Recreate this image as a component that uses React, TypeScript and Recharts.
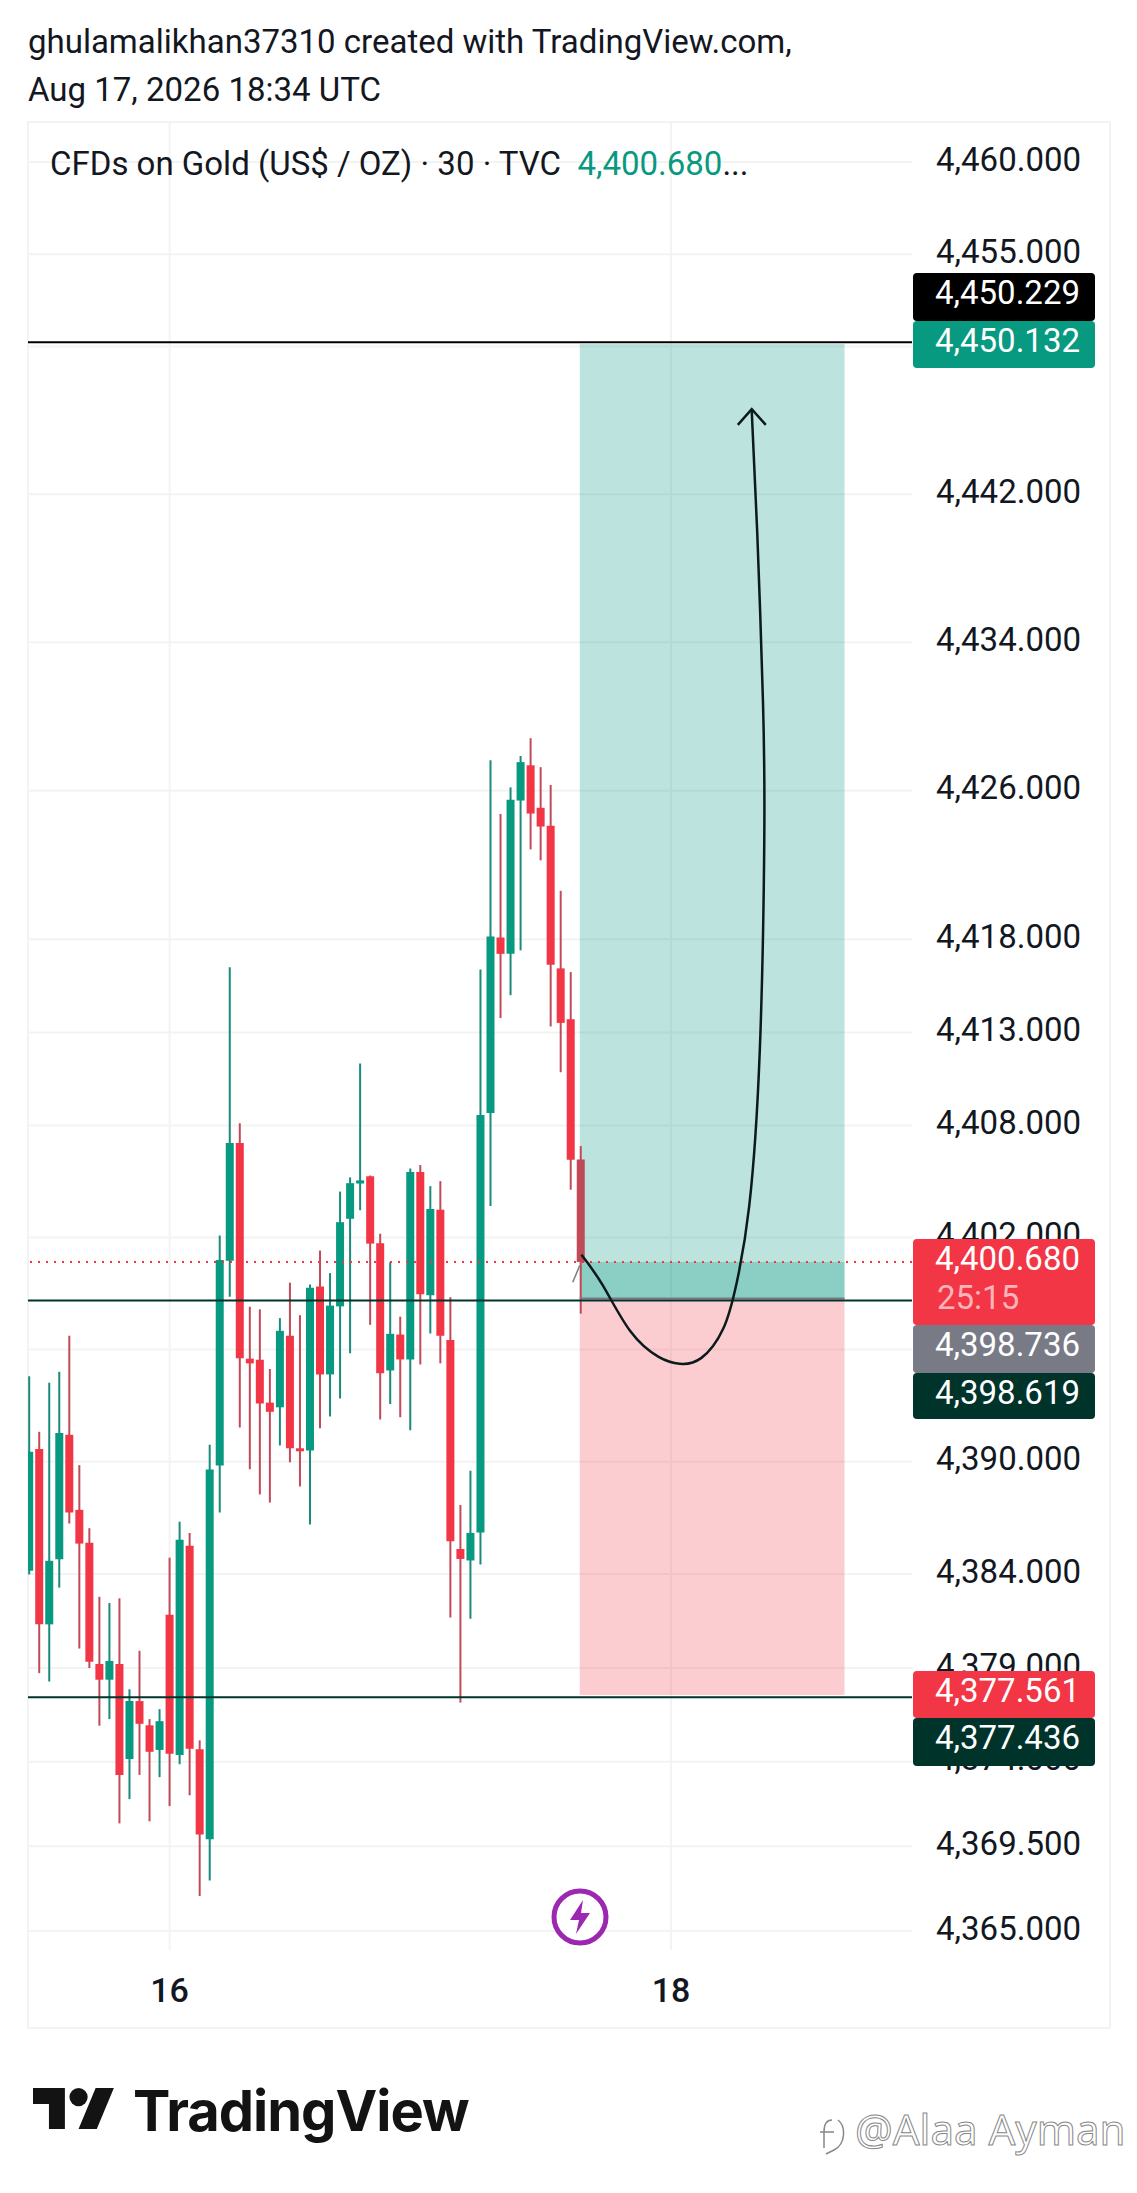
import React from 'react';
import { ComposedChart, Bar, Cell, Line, XAxis, YAxis, CartesianGrid, ReferenceLine, ReferenceArea } from 'recharts';

const opens = [4384.18, 4390.68, 4381.32, 4384.79, 4391.44, 4387.43, 4385.67, 4379.21, 4378.37, 4379.21, 4374.14, 4377.23, 4375.94, 4374.63, 4381.83, 4374.36, 4385.51, 4374.67, 4369.87, 4389.8, 4400.75, 4407.07, 4395.51, 4395.45, 4393.16, 4392.91, 4396.74, 4390.72, 4390.6, 4399.37, 4394.67, 4398.31, 4403.0, 4404.89, 4405.28, 4401.69, 4394.88, 4396.8, 4395.47, 4405.51, 4398.9, 4403.48, 4396.51, 4385.34, 4384.73, 4386.22, 4408.67, 4418.1, 4417.22, 4425.47, 4427.37, 4425.08, 4424.11, 4416.44, 4413.71, 4406.18];
const highs = [4394.57, 4391.6, 4394.22, 4394.81, 4396.74, 4389.82, 4386.45, 4382.79, 4382.46, 4382.71, 4377.86, 4379.91, 4376.27, 4376.8, 4384.88, 4386.8, 4386.2, 4375.14, 4390.91, 4402.1, 4416.5, 4408.13, 4398.29, 4398.15, 4394.96, 4397.68, 4399.58, 4397.84, 4399.48, 4401.3, 4400.09, 4404.46, 4405.22, 4411.33, 4405.32, 4402.2, 4400.67, 4397.76, 4405.69, 4405.88, 4404.75, 4405.02, 4398.8, 4387.69, 4389.52, 4416.38, 4427.64, 4424.75, 4426.18, 4427.87, 4428.83, 4427.27, 4426.31, 4420.61, 4416.24, 4406.9];
const lows = [4383.98, 4378.72, 4378.27, 4383.28, 4386.7, 4380.03, 4378.99, 4375.92, 4376.27, 4370.72, 4372.01, 4373.3, 4370.83, 4373.18, 4371.64, 4373.87, 4372.22, 4366.86, 4367.68, 4387.29, 4398.82, 4391.83, 4389.6, 4388.25, 4387.82, 4390.87, 4389.97, 4388.68, 4386.65, 4391.79, 4392.42, 4393.38, 4395.8, 4403.46, 4397.32, 4392.26, 4393.08, 4392.38, 4391.69, 4395.2, 4396.86, 4395.26, 4381.69, 4377.15, 4381.62, 4384.51, 4403.68, 4413.77, 4415.0, 4417.41, 4422.84, 4422.25, 4413.32, 4410.86, 4404.56, 4397.92];
const closes = [4390.54, 4381.32, 4384.71, 4391.54, 4387.29, 4385.63, 4379.33, 4378.37, 4379.37, 4373.3, 4377.23, 4376.02, 4374.53, 4376.16, 4374.43, 4385.84, 4374.69, 4370.13, 4389.58, 4400.79, 4407.07, 4395.53, 4395.26, 4393.12, 4392.67, 4397.0, 4390.72, 4390.56, 4399.31, 4394.67, 4398.35, 4402.82, 4404.91, 4405.06, 4401.67, 4394.73, 4396.84, 4395.47, 4405.51, 4398.96, 4403.52, 4396.74, 4385.75, 4384.81, 4386.2, 4408.56, 4418.16, 4417.22, 4425.51, 4427.54, 4424.77, 4424.07, 4416.63, 4413.51, 4406.16, 4400.68];

const priceTicks = [4460, 4455, 4450, 4442, 4434, 4426, 4418, 4413, 4408, 4402, 4396, 4390, 4384, 4379, 4374, 4369.5, 4365];
const dateTicks = [14, 64];
const dateLabels = ['16', '18'];

const curveBars = [55.07, 57.2, 59.97, 62.76, 64.85, 67.0, 69.2, 70.55, 71.8, 72.85, 73.3, 73.17, 72.6, 72.05];
const curvePrices = [4401.07, 4399.43, 4396.96, 4395.61, 4395.24, 4395.54, 4397.11, 4399.58, 4403.69, 4412.0, 4423.3, 4430.8, 4439.9, 4446.5];
const arrowBars = [70.66, 72.05, 73.45];
const arrowPrices = [4445.75, 4446.6, 4445.75];
const markerBars = [54.2, 54.9];
const markerPrices = [4399.6, 4400.5];

const GREEN = '#089981';
const RED = '#f23645';
const DARK = '#00332a';
const GRID = '#f3f3f3';
const DIM_RED = '#c04a58';
const FONT = 'Roboto, sans-serif';
const X_DOMAIN = [-0.12, 88.03];

const candles = opens.map((open, i) => ({
  i,
  body: [Math.min(open, closes[i]), Math.max(open, closes[i])],
  wick: [lows[i], highs[i]],
  up: closes[i] >= open,
}));
const curve = curveBars.map((i, k) => ({ i, price: curvePrices[k] }));
const arrow = arrowBars.map((i, k) => ({ i, price: arrowPrices[k] }));
const marker = markerBars.map((i, k) => ({ i, price: markerPrices[k] }));

function Badge({ top, height, bg, text, sub }: { top: number; height: number; bg: string; text: string; sub?: string }) {
  return (
    <div style={{ position: 'absolute', left: 913, top, width: 182, height, background: bg, borderRadius: 4, color: '#fff', fontSize: 33, lineHeight: '40px', textAlign: 'right', paddingRight: 15, boxSizing: 'border-box', fontFamily: FONT }}>
      {text}
      {sub && <div style={{ textAlign: 'left', paddingLeft: 24, color: '#ffb3ba', lineHeight: '38px' }}>{sub}</div>}
    </div>
  );
}

export default function App() {
  return (
    <div style={{ position: 'absolute', left: 0, top: 0, width: 1137, height: 2193, background: '#fff', overflow: 'hidden', fontFamily: FONT, color: '#131722' }}>
      <div style={{ position: 'absolute', left: 28, top: 18, fontSize: 33, lineHeight: '48px' }}>
        ghulamalikhan37310 created with TradingView.com,<br />Aug 17, 2026 18:34 UTC
      </div>
      <div style={{ position: 'absolute', left: 27, top: 121, width: 1084, height: 1908, border: `2px solid ${GRID}`, boxSizing: 'border-box' }} />

      <div style={{ position: 'absolute', left: 0, top: 0 }}>
        <ComposedChart width={1137} height={2193} data={candles} margin={{ top: 122, left: 28, right: 27, bottom: 165 }}>
          <CartesianGrid stroke={GRID} strokeWidth={2} syncWithTicks />
          <XAxis
            dataKey="i"
            type="number"
            domain={X_DOMAIN}
            allowDataOverflow
            ticks={dateTicks}
            interval={0}
            tickFormatter={(v) => dateLabels[dateTicks.indexOf(v)]}
            height={78}
            tickSize={0}
            tickMargin={28}
            axisLine={false}
            tick={{ fontSize: 34, fontWeight: 500, fill: '#131722', fontFamily: FONT }}
          />
          <XAxis xAxisId="wick" dataKey="i" type="number" domain={X_DOMAIN} allowDataOverflow hide />
          <XAxis xAxisId="draw" dataKey="i" type="number" domain={X_DOMAIN} allowDataOverflow hide />
          <YAxis
            orientation="right"
            scale="log"
            domain={[4363.99, 4462.17]}
            allowDataOverflow
            ticks={priceTicks}
            interval={0}
            width={198}
            tickSize={0}
            tickMargin={24}
            axisLine={false}
            tickFormatter={(v) => v.toLocaleString('en-US', { minimumFractionDigits: 3 })}
            tick={{ fontSize: 33, fill: '#131722', fontFamily: FONT, dy: -3 }}
          />

          <ReferenceLine y={4400.68} stroke={RED} strokeWidth={2} strokeDasharray="2 6" />
          <Bar xAxisId="wick" dataKey="wick" barSize={2} isAnimationActive={false}>
            {candles.map((c) => (
              <Cell key={c.i} fill={c.up ? '#1a8a7a' : DIM_RED} />
            ))}
          </Bar>
          <Bar dataKey="body" barSize={8} isAnimationActive={false}>
            {candles.map((c) => (
              <Cell key={c.i} fill={c.up ? GREEN : c.i === candles.length - 1 ? DIM_RED : RED} />
            ))}
          </Bar>

          <ReferenceArea x1={54.9} x2={81.3} y1={4398.736} y2={4450.132} fill={GREEN} fillOpacity={0.27} stroke="none" />
          <ReferenceArea x1={54.9} x2={81.3} y1={4398.736} y2={4400.68} fill={GREEN} fillOpacity={0.27} stroke="none" />
          <ReferenceArea x1={54.9} x2={81.3} y1={4377.561} y2={4398.736} fill={RED} fillOpacity={0.25} stroke="none" />
          <ReferenceLine stroke="#787b86" strokeWidth={2} segment={[{ x: 54.9, y: 4398.736 }, { x: 81.3, y: 4398.736 }]} />

          <ReferenceLine y={4450.229} stroke="#000" strokeWidth={2} />
          <ReferenceLine y={4398.619} stroke={DARK} strokeWidth={2} />
          <ReferenceLine y={4377.436} stroke={DARK} strokeWidth={2} />

          <Line xAxisId="draw" data={marker} dataKey="price" type="linear" stroke="#787b86" strokeWidth={1.5} dot={false} isAnimationActive={false} />
          <Line xAxisId="draw" data={curve} dataKey="price" type="natural" stroke="#0b1a1a" strokeWidth={2.5} dot={false} isAnimationActive={false} />
          <Line xAxisId="draw" data={arrow} dataKey="price" type="linear" stroke="#0b1a1a" strokeWidth={2.5} dot={false} isAnimationActive={false} />
        </ComposedChart>
      </div>

      <div style={{ position: 'absolute', left: 50, top: 141, fontSize: 33, lineHeight: '46px', whiteSpace: 'pre' }}>
        CFDs on Gold (US$ / OZ) · 30 · TVC  <span style={{ color: GREEN }}>4,400.680</span><span>...</span>
      </div>

      <Badge top={273} height={48} bg="#000" text="4,450.229" />
      <Badge top={321} height={47} bg={GREEN} text="4,450.132" />
      <Badge top={1239} height={86} bg={RED} text="4,400.680" sub="25:15" />
      <Badge top={1325} height={48} bg="#787b86" text="4,398.736" />
      <Badge top={1373} height={46} bg={DARK} text="4,398.619" />
      <Badge top={1671} height={47} bg={RED} text="4,377.561" />
      <Badge top={1718} height={48} bg={DARK} text="4,377.436" />

      <svg style={{ position: 'absolute', left: 550, top: 1887 }} width={60} height={60} viewBox="0 0 60 60">
        <circle cx={30} cy={30} r={26} fill="#fff" stroke="#9c27b0" strokeWidth={5} />
        <path d="M33 13 L20 33 H29 L26 47 L40 26 H31 Z" fill="#9c27b0" />
      </svg>

      <svg style={{ position: 'absolute', left: 33, top: 2088 }} width={82} height={41} viewBox="0 4 36 18" preserveAspectRatio="none">
        <path d="M14 22H7V11H0V4h14v18zM28 22h-8l7.5-18h8L28 22z" fill="#131313" />
        <circle cx={20} cy={8} r={4} fill="#131313" />
      </svg>
      <div style={{ position: 'absolute', left: 133, top: 2076, fontSize: 56, fontWeight: 700, letterSpacing: -1, color: '#131313', lineHeight: '70px', fontFamily: 'Inter, sans-serif' }}>
        TradingView
      </div>

      <div style={{ position: 'absolute', left: 855, top: 2106, fontSize: 42, color: '#fff', WebkitTextStroke: '1px #888', lineHeight: '46px', whiteSpace: 'pre', fontFamily: 'Noto Sans, sans-serif' }}>
        @Alaa Ayman
      </div>
      <svg style={{ position: 'absolute', left: 818, top: 2114 }} width={32} height={44} viewBox="0 0 32 44" fill="none" stroke="#888" strokeWidth={1.5}>
        <path d="M14 6 C8 6 6 12 6 18 V34 M2 18 H16 M20 6 C28 12 28 30 16 36 L8 40" />
      </svg>
    </div>
  );
}
